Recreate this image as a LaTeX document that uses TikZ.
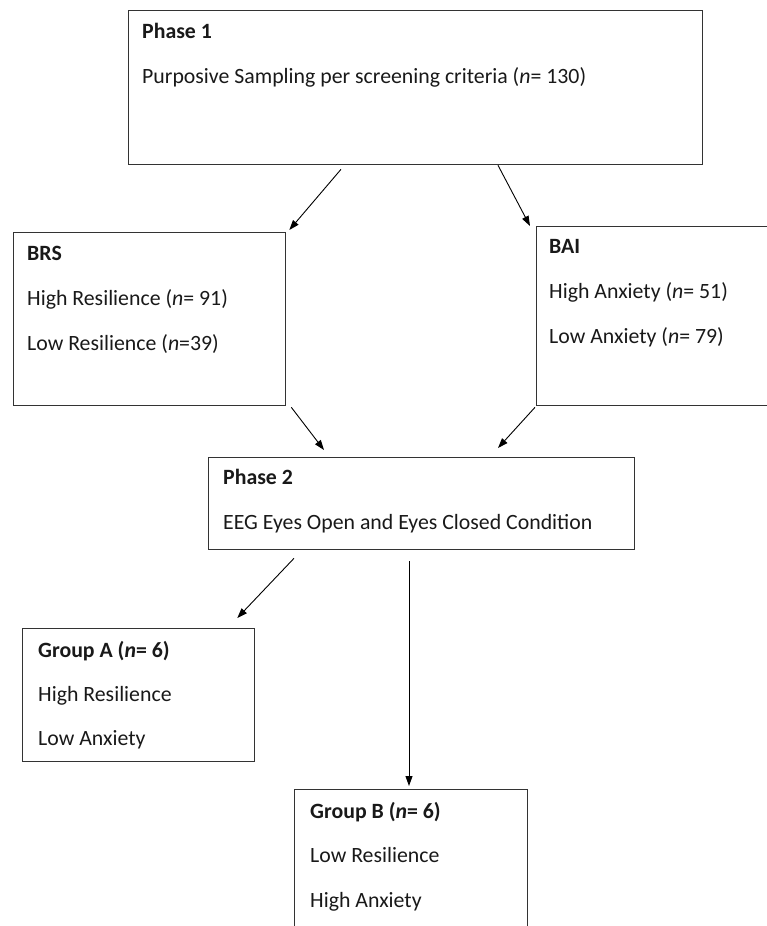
\documentclass[tikz,border=0pt]{standalone}
\usepackage{fontspec}
\setmainfont{Carlito}
\usetikzlibrary{arrows.meta}

\begin{document}
\begin{tikzpicture}[
            x=1pt, y=-1pt,
            box/.style={draw=black!80, line width=1.3pt, rectangle, anchor=north west, inner sep=0pt},
            txt/.style={anchor=base west, inner sep=0pt, font=\fontsize{21.8}{26}\selectfont, text=black!90},
            head/.style={txt, font=\fontsize{21.8}{26}\selectfont\bfseries},
            arr/.style={-{Triangle[length=10pt, width=7pt]}, line width=0.9pt}
        ]

        \useasboundingbox (0,0) rectangle (767,926);
        \clip (0,0) rectangle (767,926);

        % boxes
        \node[box, minimum width=574pt, minimum height=154pt] (p1)  at (128,10)  {};
        \node[box, minimum width=272pt, minimum height=173pt] (brs) at (13,232)  {};
        \node[box, minimum width=260pt, minimum height=179pt] (bai) at (536,226) {};
        \node[box, minimum width=426pt, minimum height=92pt]  (p2)  at (208,457) {};
        \node[box, minimum width=232pt, minimum height=133pt] (ga)  at (22,628)  {};
        \node[box, minimum width=233pt, minimum height=160pt] (gb)  at (294,789) {};

        % texts
        \node[head] (p1h) at (142,38) {Phase 1};
        \node[txt]  (p1a) at (142,83) {Purposive Sampling per screening criteria (\textit{n}= 130)};

        \node[head] (brsh) at (27,260) {BRS};
        \node[txt]  (brsa) at (27,305) {High Resilience (\textit{n}= 91)};
        \node[txt]  (brsb) at (27,350) {Low Resilience (\textit{n}=39)};

        \node[head] (baih) at (549,253) {BAI};
        \node[txt]  (baia) at (549,298) {High Anxiety (\textit{n}= 51)};
        \node[txt]  (baib) at (549,343) {Low Anxiety (\textit{n}= 79)};

        \node[head] (p2h) at (223,484) {Phase 2};
        \node[txt]  (p2a) at (223,529) {EEG Eyes Open and Eyes Closed Condition};

        \node[head] (gah) at (38,657) {Group A (\textit{n}= 6)};
        \node[txt]  (gaa) at (38,701) {High Resilience};
        \node[txt]  (gab) at (38,745) {Low Anxiety};

        \node[head] (gbh) at (310,818) {Group B (\textit{n}= 6)};
        \node[txt]  (gba) at (310,862) {Low Resilience};
        \node[txt]  (gbb) at (310,907) {High Anxiety};

        % arrows
        \draw[arr] ([shift={(213,4)}]p1.south west) -- ([shift={(3,-2)}]brs.north east);
        \draw[arr] ([shift={(370,0)}]p1.south west) -- ([shift={(-6,0)}]bai.north west);
        \draw[arr] ([shift={(5,1)}]brs.south east) -- ([shift={(116,-7)}]p2.north west);
        \draw[arr] ([shift={(-1,1)}]bai.south west) -- ([shift={(290,-9)}]p2.north west);
        \draw[arr] ([shift={(86,8)}]p2.south west) -- ([shift={(-18,-10)}]ga.north east);
        \draw[arr] ([shift={(201,11)}]p2.south west) -- ([shift={(115,-3)}]gb.north west);
    \end{tikzpicture}
\end{document}
